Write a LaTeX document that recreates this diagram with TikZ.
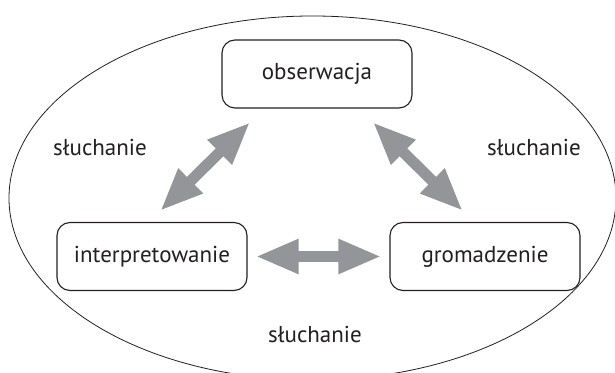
\documentclass[tikz,border=0pt]{standalone}
\usepackage{fontspec}
\setmainfont{PT Sans}
\usetikzlibrary{arrows.meta}
\definecolor{arrowgray}{HTML}{939598}
\definecolor{textdark}{HTML}{231F20}
\begin{document}
\begin{tikzpicture}[x=1pt,y=1pt,
    font=\fontsize{23}{27}\selectfont, text=textdark,
    >={Triangle[width=32pt,length=43pt]},
    activity/.style={draw=textdark, line width=1.1pt, rounded corners=13pt,
      minimum width=190pt, minimum height=68pt, inner sep=0pt},
    twoway/.style={<->, draw=arrowgray, line width=11pt}]
      %\draw [help lines] (0,0) grid (615,372);
      \useasboundingbox (0,0) rectangle (615,372);
      \draw[textdark, line width=0.8pt] (312.5,174) ellipse [x radius=303.5, y radius=182];

      \node[activity] (obserwacja) at (317,298) {obserwacja};
      \node[activity] (interpretowanie) at (152,115.5) {interpretowanie};
      \node[activity] (gromadzenie) at (485,115.5) {gromadzenie};
      \node (sluchanie-l) at (100,225) {słuchanie};
      \node (sluchanie-r) at (534,225) {słuchanie};
      \node (sluchanie-d) at (315,38) {słuchanie};

      \draw[twoway, shorten <=15.6pt, shorten >=19.4pt]
        ([xshift=-3pt]interpretowanie.north) to ([xshift=-53pt]obserwacja.south);
      \draw[twoway, shorten <=19.4pt, shorten >=15.6pt]
        ([xshift=42pt]obserwacja.south) to ([xshift=-11pt]gromadzenie.north);
      \draw[twoway, shorten <=8pt, shorten >=8pt] (interpretowanie) to (gromadzenie);
    \end{tikzpicture}
\end{document}
